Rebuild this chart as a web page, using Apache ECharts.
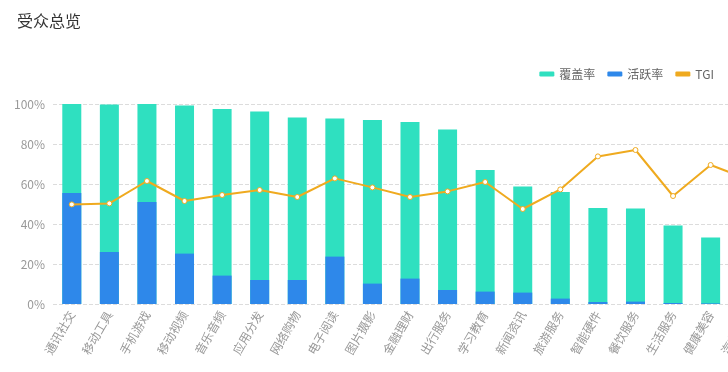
<!DOCTYPE html>
<html>
<head>
<meta charset="utf-8">
<script src="https://cdn.jsdelivr.net/npm/echarts@6/dist/echarts.min.js"></script>
<style>
html,body{margin:0;padding:0;background:#fff;}
#chart{width:728px;height:372px;}
</style>
</head>
<body>
<div id="chart"></div>
<script>
var categories = ['通讯社交','移动工具','手机游戏','移动视频','音乐音频','应用分发','网络购物','电子阅读','图片摄影','金融理财','出行服务','学习教育','新闻资讯','旅游服务','智能硬件','餐饮服务','生活服务','健康美容','汽车服务'];
var coverage = [100, 99.8, 100, 99.2, 97.5, 96.3, 93.2, 92.8, 92, 91, 87.3, 67, 58.7, 56, 48, 47.8, 39.3, 33.2, 30];
var active = [55.5, 26, 51, 25.2, 14.2, 12, 12, 23.7, 10.2, 12.7, 7, 6.2, 5.7, 2.7, 1, 1.2, 0.5, 0.3, 0.3];
var tgi = [49.8, 50.3, 61.5, 51.5, 54.5, 57, 53.5, 62.8, 58.3, 53.5, 56.3, 61, 47.5, 57.3, 73.8, 77, 54, 69.5, 62.4];
var yTicks = {min: 0, max: 100, interval: 20};

var font = '"Noto Sans CJK SC", "Noto Sans", sans-serif';
var chart = echarts.init(document.getElementById('chart'), null, {renderer: 'canvas'});
chart.setOption({
  animation: false,
  textStyle: {fontFamily: font},
  title: {
    text: '受众总览',
    left: 12, top: 8,
    textStyle: {fontSize: 16, fontWeight: 'normal', color: '#333', fontFamily: font}
  },
  legend: {
    right: 9, top: 63,
    itemWidth: 15, itemHeight: 5, itemGap: 12,
    icon: 'roundRect',
    textStyle: {fontSize: 12, color: '#666', fontFamily: font},
    data: [
      {name: '覆盖率', icon: 'roundRect'},
      {name: '活跃率', icon: 'roundRect'},
      {name: 'TGI', icon: 'roundRect', itemStyle: {color: '#efaa1f', borderWidth: 0}, lineStyle: {width: 0}}
    ]
  },
  grid: {left: 53, top: 104, width: 714, bottom: 68, containLabel: false, outerBoundsMode: 'none'},
  xAxis: {
    type: 'category',
    data: categories,
    axisLine: {show: false},
    axisTick: {show: false},
    axisLabel: {rotate: 60, color: '#999', fontSize: 12, margin: 8, interval: 0, fontFamily: font}
  },
  yAxis: {
    type: 'value',
    min: yTicks.min, max: yTicks.max, interval: yTicks.interval,
    axisLine: {show: false},
    axisTick: {show: false},
    axisLabel: {formatter: '{value}%', color: '#999', fontSize: 12, margin: 8, fontFamily: font},
    splitLine: {lineStyle: {type: 'dashed', color: '#dcdcdc'}}
  },
  series: [
    {name: '覆盖率', type: 'bar', data: coverage, barWidth: 19, barGap: '-100%', itemStyle: {color: '#2fe0c0'}},
    {name: '活跃率', type: 'bar', data: active, barWidth: 19, barGap: '-100%', itemStyle: {color: '#2e88ea'}},
    {name: 'TGI', type: 'line', data: tgi, symbol: 'circle', symbolSize: 5,
     itemStyle: {color: '#fff', borderColor: '#efaa1f', borderWidth: 1},
     lineStyle: {color: '#efaa1f', width: 2}, z: 5}
  ]
});
</script>
</body>
</html>
